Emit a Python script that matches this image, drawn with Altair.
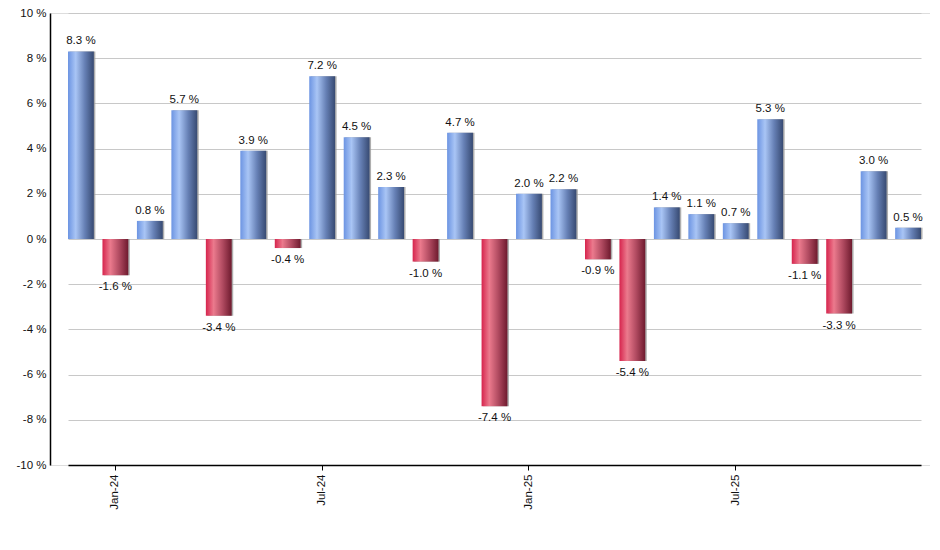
import altair as alt
import pandas as pd

months = ["Dec-23", "Jan-24", "Feb-24", "Mar-24", "Apr-24", "May-24", "Jun-24",
          "Jul-24", "Aug-24", "Sep-24", "Oct-24", "Nov-24", "Dec-24",
          "Jan-25", "Feb-25", "Mar-25", "Apr-25", "May-25", "Jun-25",
          "Jul-25", "Aug-25", "Sep-25", "Oct-25", "Nov-25", "Dec-25"]
values = [8.3, -1.6, 0.8, 5.7, -3.4, 3.9, -0.4, 7.2, 4.5, 2.3, -1.0, 4.7, -7.4,
          2.0, 2.2, -0.9, -5.4, 1.4, 1.1, 0.7, 5.3, -1.1, -3.3, 3.0, 0.5]
tick_months = ["Jan-24", "Jul-24", "Jan-25", "Jul-25"]
y_ticks = [-10, -8, -6, -4, -2, 0, 2, 4, 6, 8, 10]

df = pd.DataFrame({"month": months, "value": values})
df["label"] = df["value"].map(lambda v: f"{v:.1f} %")

FONT = "Liberation Sans"
FS = 11.5

x_enc = alt.X("month:N", sort=months, title=None,
              scale=alt.Scale(paddingInner=0.25, paddingOuter=0, range=[18, 871]),
              axis=alt.Axis(values=tick_months, labelAngle=-90, labelFontSize=FS,
                            labelFont=FONT, labelColor="#111", domainColor="#000",
                            domainWidth=1.5, tickColor="#000", tickSize=5,
                            labelPadding=4, grid=False))
y_enc = alt.Y("value:Q", title=None,
              scale=alt.Scale(domain=[-10, 10], nice=False),
              axis=alt.Axis(values=y_ticks, labelExpr="datum.value + ' %'",
                            labelFontSize=FS, labelFont=FONT, labelColor="#111",
                            domainColor="#000", domainWidth=1.5, ticks=False,
                            gridColor="#c8c8c8", gridWidth=1, labelPadding=4))

blue = alt.Gradient(gradient="linear", x1=0, x2=1, y1=0, y2=0, stops=[
    alt.GradientStop(color="#6c94e2", offset=0),
    alt.GradientStop(color="#a9c5f5", offset=0.3),
    alt.GradientStop(color="#6680b5", offset=0.65),
    alt.GradientStop(color="#374a72", offset=1)])
red = alt.Gradient(gradient="linear", x1=0, x2=1, y1=0, y2=0, stops=[
    alt.GradientStop(color="#d6244d", offset=0),
    alt.GradientStop(color="#eb7a8d", offset=0.3),
    alt.GradientStop(color="#b04a60", offset=0.65),
    alt.GradientStop(color="#6e1a2e", offset=1)])

base = alt.Chart(df).encode(x=x_enc)

shadow = base.mark_bar(color="#9a9a9a", xOffset=1.5, opacity=0.8).encode(
    y=y_enc, y2=alt.datum(0))
pos = base.transform_filter("datum.value >= 0").mark_bar(color=blue).encode(
    y=y_enc, y2=alt.datum(0))
neg = base.transform_filter("datum.value < 0").mark_bar(color=red).encode(
    y=y_enc, y2=alt.datum(0))
pos_txt = base.transform_filter("datum.value >= 0").mark_text(
    baseline="bottom", dy=-5, fontSize=FS, font=FONT, color="#111").encode(
    y=alt.Y("value:Q"), text="label:N")
neg_txt = base.transform_filter("datum.value < 0").mark_text(
    baseline="top", dy=6, fontSize=FS, font=FONT, color="#111").encode(
    y=alt.Y("value:Q"), text="label:N")

chart = alt.layer(shadow, pos, neg, pos_txt, neg_txt).properties(
    width=880, height=452,
    autosize=alt.AutoSizeParams(type="none"),
    padding={"left": 42, "top": 5, "right": 0, "bottom": 60},
).configure_view(stroke=None).configure(background="white")

chart.save("out.html", embed_options={"renderer": "svg", "actions": False})
